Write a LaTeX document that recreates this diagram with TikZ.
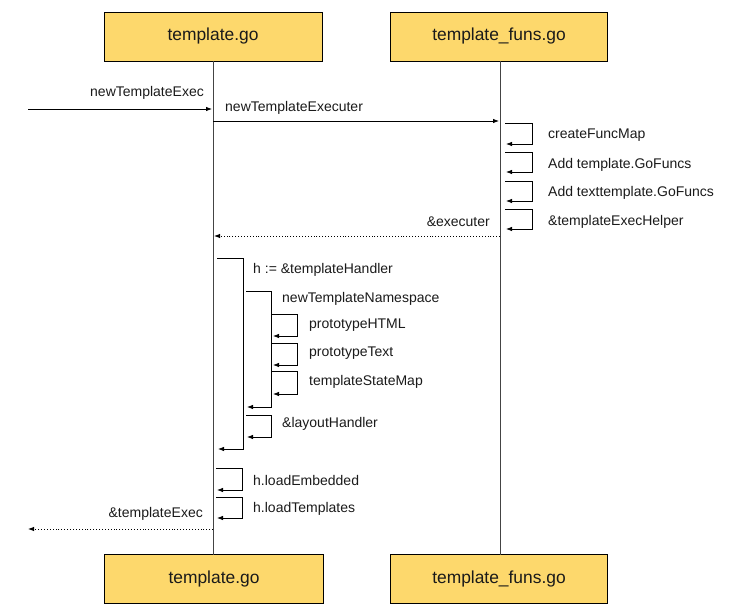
\documentclass[tikz,border=0pt]{standalone}
\usepackage{fontspec}
\setmainfont{Liberation Sans}
\usetikzlibrary{arrows.meta}
\definecolor{boxfill}{HTML}{FDD86C}
\definecolor{txt}{HTML}{1A1A1A}
\definecolor{life}{HTML}{444444}
\tikzset{
  actor/.style={draw=black, line width=0.9pt, fill=boxfill, minimum height=49pt, inner sep=0pt,
    font=\fontsize{17.4}{20}\selectfont, text=txt},
  lbl/.style={inner sep=0pt, yshift=-1.5pt, font=\fontsize{14}{16}\selectfont, text=txt},
  msg/.style={line width=0.8pt, -{Latex[length=6pt,width=4.5pt]}},
  ret/.style={line width=0.9pt, dotted, -{Latex[length=6pt,width=4.5pt]}},
  lifeline/.style={draw=life, line width=0.9pt}
}
\begin{document}
\begin{tikzpicture}[x=1pt,y=-1pt]
\useasboundingbox (0,0) rectangle (731,607);
% actors
\node[actor, minimum width=218pt] (t1) at (213,36.5) {template.go};
\node[actor, minimum width=217pt] (t2) at (499,36.5) {template\_funs.go};
\node[actor, minimum width=219pt] (b1) at (214,579) {template.go};
\node[actor, minimum width=217pt] (b2) at (499,579) {template\_funs.go};
% lifelines
\draw[lifeline] (213,61) -- (213,555);
\draw[lifeline] (500,61) -- (500,555);
% incoming call
\coordinate (in0) at (28,109);
\coordinate (in1) at (212,109);
\draw[msg] (in0) -- (in1);
\node[lbl, anchor=east] (l1) at (204,91) {newTemplateExec};
% call to template_funs
\coordinate (c1a) at (213,121);
\coordinate (c1b) at (499,121);
\draw[msg] (c1a) -- (c1b);
\node[lbl, anchor=west] (l2) at (225,106) {newTemplateExecuter};
% self calls on template_funs
\foreach \t/\b/\name/\txtl/\ty in {123/144/s1/createFuncMap/134, 152/172/s2/Add template.GoFuncs/163, 181/201/s3/Add texttemplate.GoFuncs/191, 209/229/s4/\&templateExecHelper/220}{
  \draw[msg] (505,\t) -- (532,\t) -- (532,\b) -- (506,\b);
  \node[lbl, anchor=west] (\name) at (548,\ty) {\txtl};
}
% return executer
\coordinate (r1a) at (500,236);
\coordinate (r1b) at (214,236);
\draw[ret] (r1a) -- (r1b);
\node[lbl, anchor=east] (l3) at (490,220) {\&executer};
% big self call
\draw[msg] (217,258) -- (243,258) -- (243,449) -- (218,449);
\node[lbl, anchor=west] (l4) at (253,268) {h := \&templateHandler};
% newTemplateNamespace
\draw[msg] (246,291) -- (271,291) -- (271,407) -- (247,407);
\node[lbl, anchor=west] (l5) at (282,297) {newTemplateNamespace};
% inner calls
\foreach \t/\b/\name/\txtl/\ty in {314/336/p1/prototypeHTML/324, 343/365/p2/prototypeText/352, 371/394/p3/templateStateMap/380}{
  \draw[msg] (272,\t) -- (297,\t) -- (297,\b) -- (273,\b);
  \node[lbl, anchor=west] (\name) at (309,\ty) {\txtl};
}
% layoutHandler
\draw[msg] (246,415) -- (271,415) -- (271,437) -- (247,437);
\node[lbl, anchor=west] (l6) at (282,422) {\&layoutHandler};
% load calls
\draw[msg] (216,468) -- (242,468) -- (242,490) -- (217,490);
\node[lbl, anchor=west] (l7) at (253,479) {h.loadEmbedded};
\draw[msg] (216,497) -- (242,497) -- (242,518) -- (217,518);
\node[lbl, anchor=west] (l8) at (253,507) {h.loadTemplates};
% final return
\coordinate (r2a) at (213,529);
\coordinate (r2b) at (28,529);
\draw[ret] (r2a) -- (r2b);
\node[lbl, anchor=east] (l9) at (203,512) {\&templateExec};
\end{tikzpicture}
\end{document}
